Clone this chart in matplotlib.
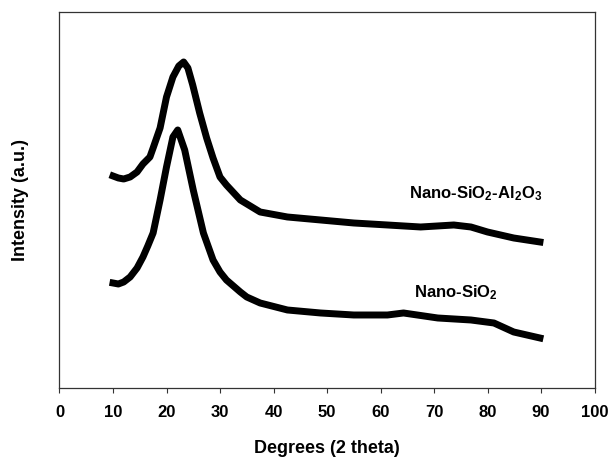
import numpy as np
import matplotlib
matplotlib.use('Agg')
import matplotlib.pyplot as plt

plt.rcParams['font.family'] = ['Liberation Sans', 'DejaVu Sans']
plt.rcParams['font.weight'] = 'bold'
plt.rcParams['mathtext.fontset'] = 'custom'
plt.rcParams['mathtext.rm'] = 'Liberation Sans:bold'
plt.rcParams['mathtext.it'] = 'Liberation Sans:bold'
plt.rcParams['mathtext.bf'] = 'Liberation Sans:bold'
plt.rcParams['mathtext.default'] = 'rm'

# XRD patterns (intensity in arbitrary units)
theta_al = [10, 11, 12, 13.2, 14.5, 15.6, 16.9, 17.5, 18.8, 20, 21.2, 22.3, 23.2, 24,
            24.9, 26.2, 27.5, 28.7, 30, 31.2, 33.8, 37.5, 42.6, 48.8, 55, 61.3, 67.5,
            73.7, 76.9, 80, 84.9, 89.8]
int_al = [212, 210, 209, 211, 216, 224, 231, 240, 260, 291, 311, 322, 326, 320,
          303, 275, 250, 230, 211, 203, 188, 176, 171, 168, 165, 163, 161,
          163, 161, 156, 150, 146]

theta_si = [10, 11, 12, 13.2, 14.5, 15.6, 16.5, 17.5, 18.8, 20, 21.2, 22.1, 23.4, 25,
            26.9, 28.7, 30, 31.2, 33.8, 35, 37.5, 42.6, 48.8, 55, 61.3, 64.3, 70.7,
            76.9, 81.2, 84.9, 89.8]
int_si = [105, 104, 106, 111, 120, 131, 142, 155, 188, 221, 251, 258, 238, 198,
          155, 128, 116, 108, 96, 91, 85, 78, 75, 73, 73, 75, 70,
          68, 65, 56, 50]

label_al = r'Nano-SiO$_2$-Al$_2$O$_3$'
label_si = r'Nano-SiO$_2$'
xticks = list(range(0, 101, 10))

fig = plt.figure(figsize=(6.09, 4.59), dpi=100)
ax = fig.add_axes([0.0977, 0.1547, 0.8785, 0.8181])

ax.plot(theta_al, int_al, color='black', lw=5, solid_joinstyle='round')
ax.plot(theta_si, int_si, color='black', lw=5, solid_joinstyle='round')

ax.text(65.4, 190, label_al, fontsize=12, fontweight='bold', va='baseline', ha='left')
ax.text(66.2, 91, label_si, fontsize=12, fontweight='bold', va='baseline', ha='left')

ax.set_xlim(0, 100)
ax.set_ylim(0, 375.5)
ax.set_xticks(xticks)
ax.set_yticks([])
ax.tick_params(axis='x', direction='out', length=3.6, width=0.8, pad=9,
               labelsize=12, color='#333333')
for lab in ax.get_xticklabels():
    lab.set_fontweight('bold')
for sp in ax.spines.values():
    sp.set_color('#333333')
    sp.set_linewidth(0.9)

ax.set_xlabel('Degrees (2 theta)', fontsize=13, fontweight='bold', labelpad=14)
ax.set_ylabel('Intensity (a.u.)', fontsize=13, fontweight='bold', labelpad=22)

fig.savefig('out.png', dpi=100, facecolor='white')
